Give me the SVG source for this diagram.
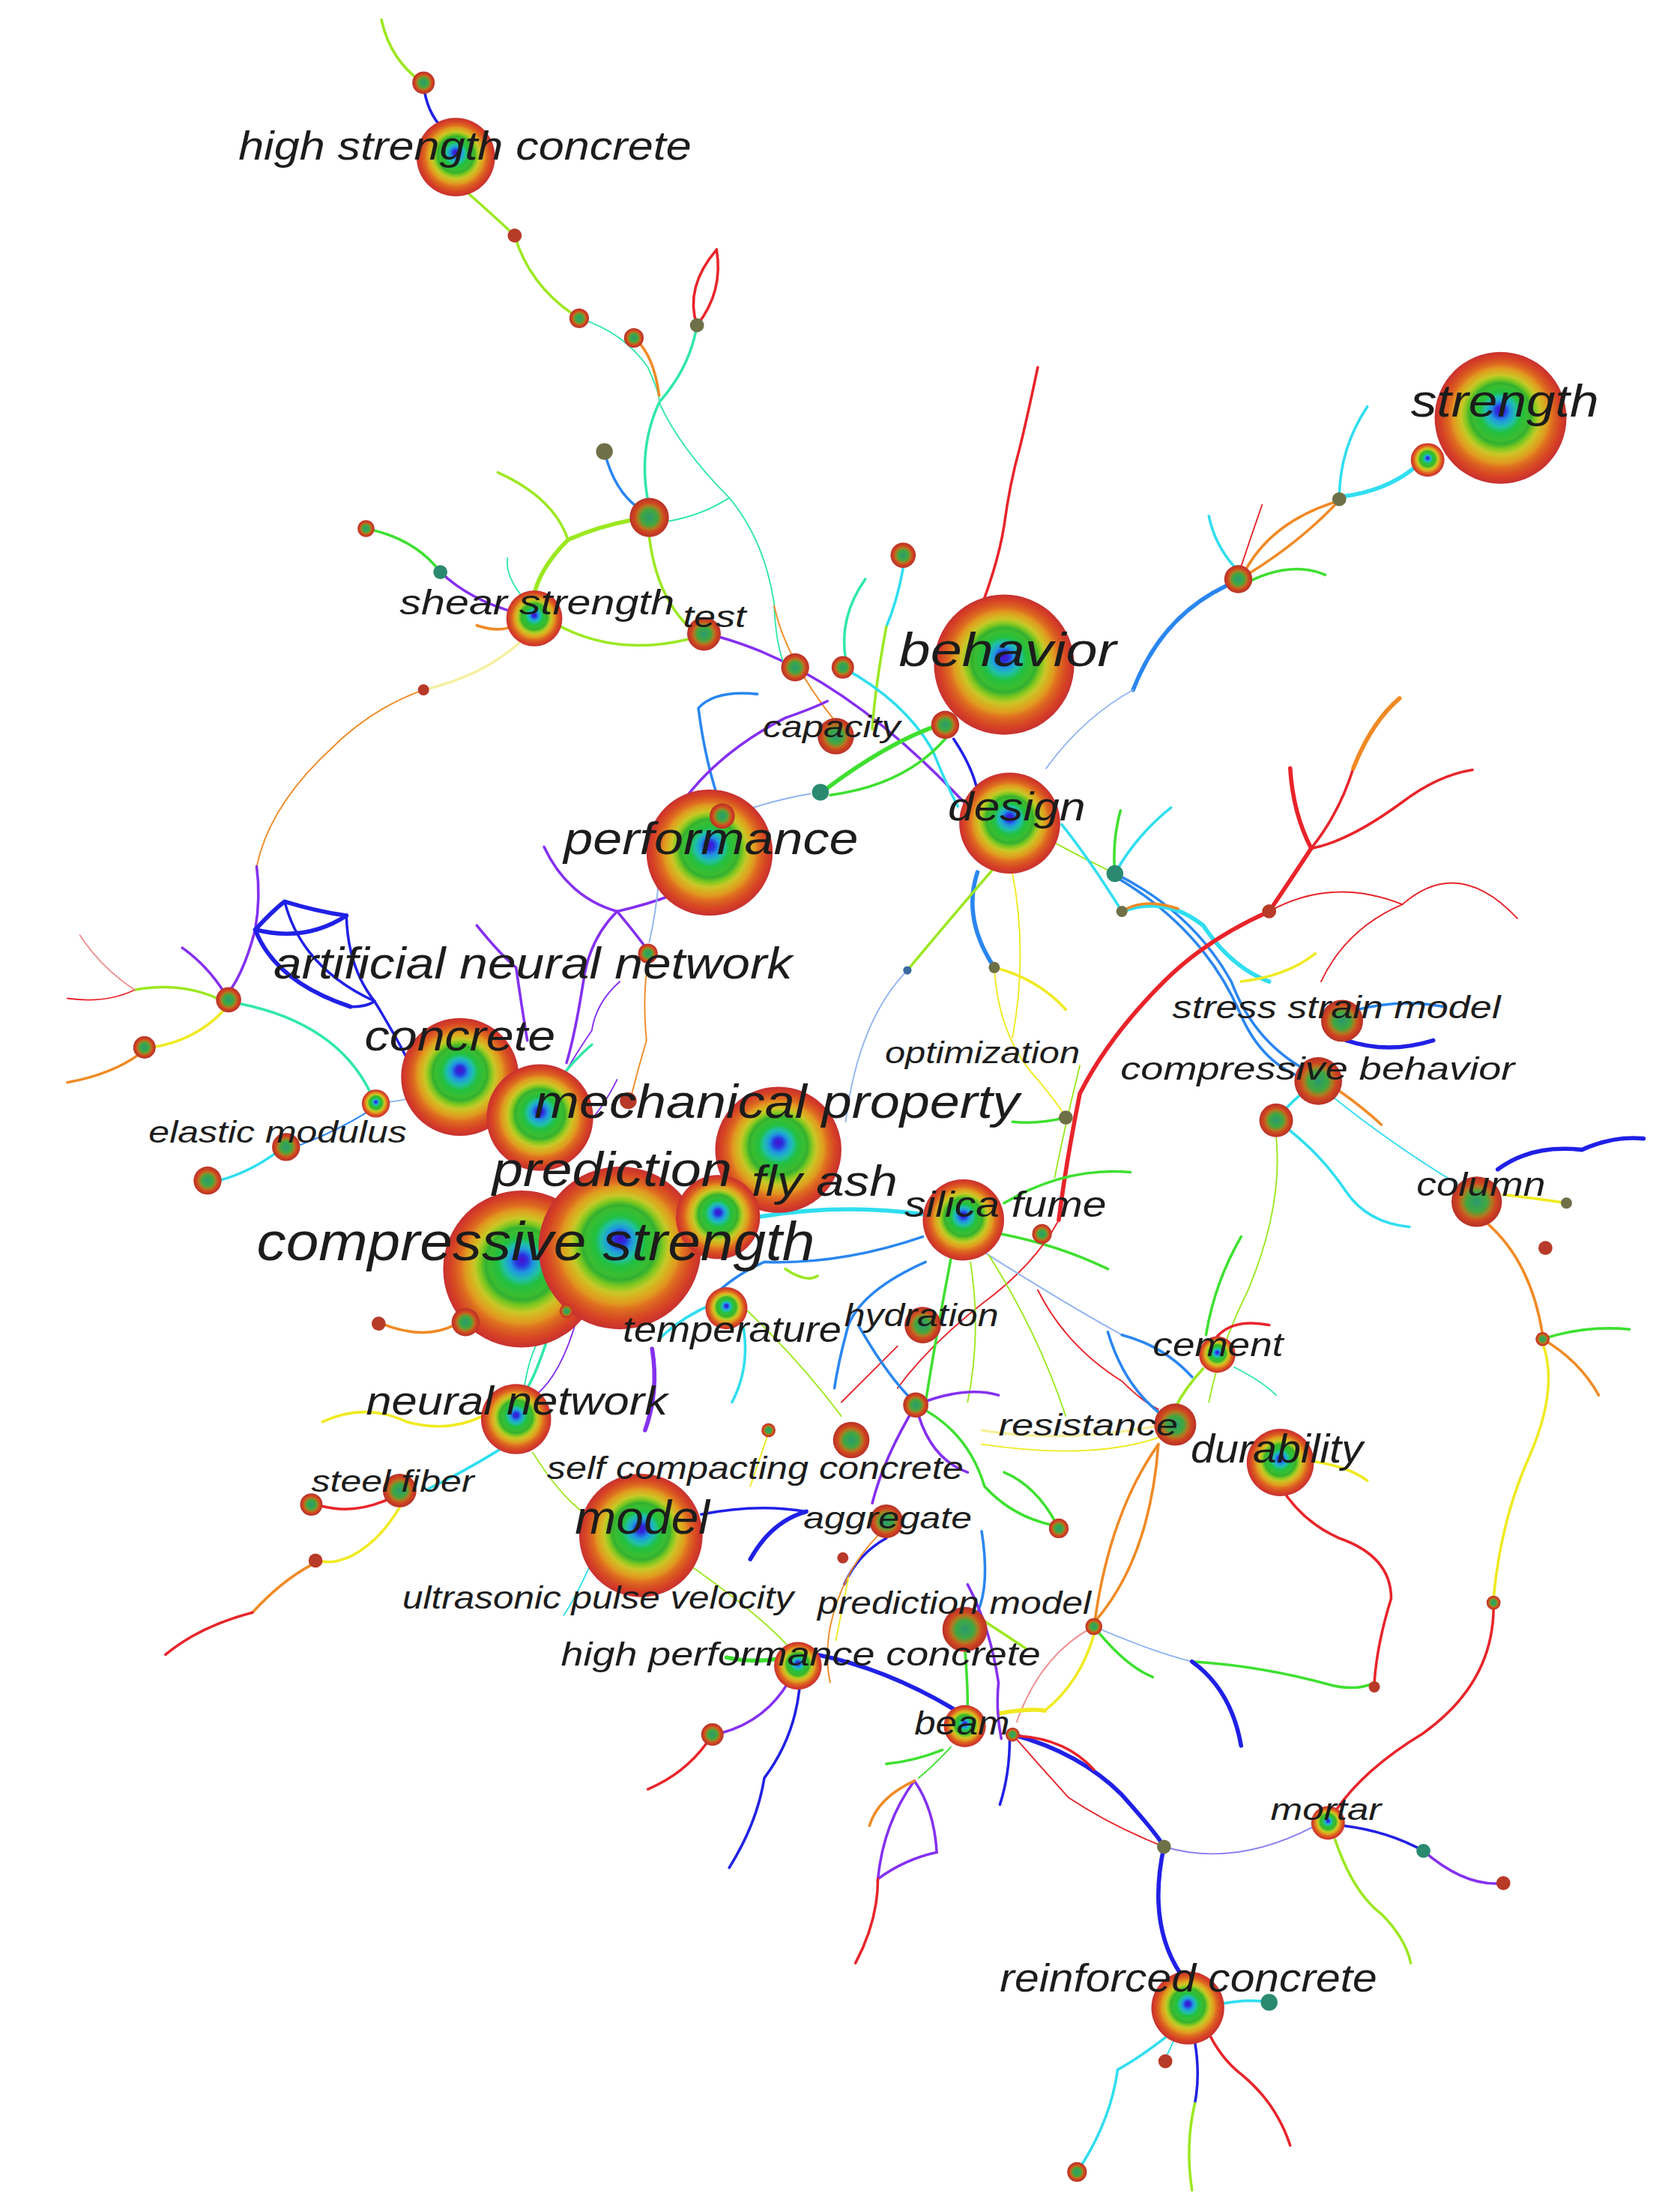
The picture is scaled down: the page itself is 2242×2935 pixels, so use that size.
<svg xmlns="http://www.w3.org/2000/svg" width="2242" height="2935" viewBox="0 0 2242 2935">
<defs>
<radialGradient id="rg" cx="0.5" cy="0.5" r="0.5" fx="0.5" fy="0.44">
<stop offset="0" stop-color="#4a10c8"/>
<stop offset="0.07" stop-color="#2a30e0"/>
<stop offset="0.15" stop-color="#2098e0"/>
<stop offset="0.23" stop-color="#20c0a8"/>
<stop offset="0.31" stop-color="#22c040"/>
<stop offset="0.42" stop-color="#3cbc30"/>
<stop offset="0.46" stop-color="#30b030"/>
<stop offset="0.53" stop-color="#80c820"/>
<stop offset="0.6" stop-color="#c8c828"/>
<stop offset="0.66" stop-color="#d8b020"/>
<stop offset="0.72" stop-color="#e09a20"/>
<stop offset="0.78" stop-color="#e07020"/>
<stop offset="0.84" stop-color="#d85a22"/>
<stop offset="0.9" stop-color="#d84424"/>
<stop offset="1" stop-color="#c83030"/>
</radialGradient>
<radialGradient id="rs" cx="0.5" cy="0.5" r="0.5">
<stop offset="0" stop-color="#2a9a70"/>
<stop offset="0.4" stop-color="#40a840"/>
<stop offset="0.6" stop-color="#b07a20"/>
<stop offset="0.75" stop-color="#d04820"/>
<stop offset="1" stop-color="#b83028"/>
</radialGradient>
<style>
.e path{fill:none;stroke-linecap:round}
.r{stroke:#e8242a}.o{stroke:#f08a24}.y{stroke:#f0ea20}.l{stroke:#9ce820}.g{stroke:#3ee030}
.t{stroke:#30e8a8}.c{stroke:#30def0}.lb{stroke:#2a86f0}.b{stroke:#2020e6}.p{stroke:#8430f0}
.pk{stroke:#f09090}.ly{stroke:#f6f0a0}.lt{stroke:#90b4f0}.lp{stroke:#8a80f0}
.w1{stroke-width:1}.w2{stroke-width:1.9}.w3{stroke-width:3}
.n{fill:url(#rg)}.m{fill:url(#rs)}.d{fill:#b83a28}.k{fill:#6e7048}.q{fill:#2a8a70}
text{font-family:"Liberation Sans",Arial,sans-serif;font-style:italic;fill:#1c1c1c}
</style>
</defs>
<rect width="2242" height="2935" fill="#ffffff"/>
<g transform="scale(1.8715)">
<g id="connectors" class="e">
<path class="l w2" d="M272,14 Q278,42 300,58"/>
<path class="b w2" d="M302,60 Q304,80 316,92"/>
<path class="p w2" d="M300,103 Q306,107 316,110"/>
<path class="l w2" d="M334,138 Q350,152 367,168"/>
<path class="l w2" d="M367,168 Q378,205 413,227"/>
<path class="t w1" d="M413,227 Q445,237 462,262 Q470,280 470,285"/>
<path class="o w2" d="M452,241 Q466,252 470,282"/>
<path class="r w2" d="M497,232 Q488,205 511,178"/>
<path class="r w2" d="M497,232 Q516,208 511,178"/>
<path class="t w2" d="M497,232 Q492,262 470,287 Q455,320 462,357"/>
<path class="t w1" d="M470,287 Q485,320 520,355 Q545,385 552,430"/>
<path class="lb w2" d="M431,322 Q438,350 455,362"/>
<path class="t w1" d="M475,372 Q500,368 520,355"/>
<path class="l w3" d="M450,371 Q425,376 405,385 Q385,405 381,424"/>
<path class="l w2" d="M405,385 Q395,355 355,337"/>
<path class="l w2" d="M463,383 Q468,425 492,448"/>
<path class="l w2" d="M398,446 Q440,468 490,456"/>
<path class="g w2" d="M261,377 Q296,384 314,408"/>
<path class="p w2" d="M314,408 Q335,428 368,437"/>
<path class="t w1" d="M372,425 Q360,410 362,398"/>
<path class="o w2" d="M340,446 Q355,451 364,447"/>
<path class="ly w2" d="M372,457 Q345,482 302,492"/>
<path class="o w1" d="M302,492 Q265,505 235,535 Q192,575 183,618"/>
<path class="p w2" d="M183,618 Q186,640 182,663"/>
<path class="p w2" d="M182,663 Q175,690 165,705"/>
<path class="p w2" d="M512,454 Q600,478 690,575"/>
<path class="c w2" d="M644,405 Q640,428 632,447"/>
<path class="l w2" d="M632,447 Q624,490 622,520"/>
<path class="t w2" d="M617,413 Q598,440 603,470"/>
<path class="t w1" d="M552,430 Q553,460 560,476"/>
<path class="o w1" d="M552,432 Q560,470 596,515"/>
<path class="c w2" d="M601,476 Q645,500 665,535 Q675,560 683,575"/>
<path class="lb w2" d="M540,495 Q510,492 498,505 Q503,545 515,578"/>
<path class="p w2" d="M478,585 Q505,540 560,512 Q580,505 590,500"/>
<path class="g w3" d="M664,519 Q630,532 590,562"/>
<path class="g w2" d="M674,527 Q645,560 592,567"/>
<path class="lt w1" d="M578,566 Q545,572 520,582"/>
<path class="b w2" d="M680,527 Q692,545 696,560"/>
<path class="r w2" d="M700,432 Q712,400 716,375 Q720,345 727,320 Q732,300 740,262"/>
<path class="lb w3" d="M808,492 Q828,440 874,418"/>
<path class="lt w1" d="M808,492 Q772,512 746,548"/>
<path class="o w2" d="M889,405 Q908,372 952,358"/>
<path class="o w2" d="M889,410 Q925,388 952,360"/>
<path class="r w1" d="M885,404 Q893,380 900,360"/>
<path class="c w2" d="M880,404 Q866,388 862,368"/>
<path class="g w2" d="M892,414 Q922,400 945,410"/>
<path class="c w2" d="M955,356 Q955,320 975,290"/>
<path class="c w3" d="M958,354 Q988,350 1008,334"/>
<path class="lb w3" d="M697,622 Q686,655 709,690"/>
<path class="l w2" d="M708,620 Q682,650 647,692"/>
<path class="lt w1" d="M647,692 Q612,728 603,800"/>
<path class="y w1" d="M722,623 Q733,680 722,740"/>
<path class="y w2" d="M709,690 Q740,698 760,720"/>
<path class="y w1" d="M709,690 Q712,740 740,770 Q755,788 760,797"/>
<path class="l w1" d="M750,600 Q772,612 795,623"/>
<path class="c w2" d="M757,588 Q775,610 800,650"/>
<path class="g w2" d="M795,623 Q793,600 799,578"/>
<path class="c w2" d="M795,623 Q810,596 835,576"/>
<path class="lb w2" d="M795,623 Q850,650 878,700 Q895,745 935,765"/>
<path class="lb w2" d="M795,625 Q858,662 884,722 Q900,760 933,770"/>
<path class="c w3" d="M800,650 Q830,638 858,660 Q878,690 905,700"/>
<path class="o w2" d="M800,650 Q815,640 840,648"/>
<path class="r w3" d="M905,650 Q922,625 935,605"/>
<path class="r w3" d="M935,605 Q922,580 920,548"/>
<path class="r w2" d="M935,605 Q962,600 1000,572 Q1025,553 1050,549"/>
<path class="r w2" d="M935,605 Q955,580 965,548"/>
<path class="o w3" d="M965,548 Q978,515 998,498"/>
<path class="r w3" d="M905,650 Q860,670 830,700 Q790,740 770,780 Q760,830 755,870"/>
<path class="r w1" d="M905,650 Q950,625 1000,645"/>
<path class="r w1" d="M1000,645 Q1040,610 1082,655"/>
<path class="r w1" d="M1000,645 Q960,662 942,700"/>
<path class="y w2" d="M885,700 Q918,696 938,680"/>
<path class="b w3" d="M960,742 Q990,752 1022,742"/>
<path class="lb w2" d="M968,720 Q1000,712 1030,718"/>
<path class="c w2" d="M940,771 Q920,785 910,799"/>
<path class="o w2" d="M955,778 Q972,790 985,802"/>
<path class="c w1" d="M950,782 Q995,818 1042,846"/>
<path class="c w2" d="M910,799 Q940,820 960,850 Q975,872 1005,875"/>
<path class="l w1" d="M910,811 Q915,860 890,920 Q870,960 862,1000"/>
<path class="g w2" d="M885,882 Q866,915 860,952"/>
<path class="b w3" d="M1068,834 Q1092,816 1128,820 Q1150,810 1172,812"/>
<path class="y w2" d="M1072,852 Q1098,855 1117,858"/>
<path class="o w2" d="M1060,872 Q1092,900 1100,952"/>
<path class="g w2" d="M1100,955 Q1130,945 1162,948"/>
<path class="o w2" d="M1100,955 Q1126,970 1140,995"/>
<path class="y w2" d="M1100,958 Q1112,990 1090,1040 Q1070,1085 1065,1140"/>
<path class="r w2" d="M1065,1146 Q1065,1200 1015,1236 Q972,1262 952,1292"/>
<path class="r w2" d="M913,1060 Q928,1085 955,1097 Q992,1110 992,1140 Q982,1172 980,1200"/>
<path class="y w2" d="M935,1042 Q962,1046 975,1056"/>
<path class="c w3" d="M658,866 Q600,858 540,868"/>
<path class="g w2" d="M716,858 Q760,832 806,836"/>
<path class="g w2" d="M714,880 Q755,888 790,905"/>
<path class="r w1" d="M755,870 Q738,902 700,930 Q662,960 640,990"/>
<path class="lb w2" d="M658,882 Q600,902 545,900"/>
<path class="lb w2" d="M545,900 Q522,910 505,928"/>
<path class="g w2" d="M760,797 Q740,802 722,800"/>
<path class="l w1" d="M770,760 Q760,800 752,840"/>
<path class="lt w1" d="M700,892 Q760,930 800,952"/>
<path class="lb w2" d="M800,952 Q830,960 850,982"/>
<path class="g w2" d="M678,898 Q668,950 660,1000"/>
<path class="l w1" d="M692,900 Q700,950 690,1000"/>
<path class="l w1" d="M705,895 Q740,950 760,1010"/>
<path class="lb w2" d="M660,900 Q615,920 605,945 Q598,970 595,990"/>
<path class="r w1" d="M640,960 Q615,985 600,1000"/>
<path class="r w1" d="M740,920 Q760,960 800,985 Q815,1000 826,1005"/>
<path class="p w2" d="M653,1002 Q688,988 712,995"/>
<path class="p w2" d="M653,1002 Q662,1040 690,1050"/>
<path class="p w2" d="M653,1002 Q630,1040 622,1072"/>
<path class="g w2" d="M653,1002 Q690,1020 702,1060 Q722,1082 752,1088"/>
<path class="lb w2" d="M612,945 Q632,980 650,998"/>
<path class="ly w2" d="M700,1020 Q760,1030 830,1016"/>
<path class="y w1" d="M700,1030 Q780,1042 830,1024"/>
<path class="lb w2" d="M790,950 Q802,990 830,1010"/>
<path class="r w2" d="M868,953 Q880,940 905,945"/>
<path class="t w1" d="M880,975 Q900,985 910,995"/>
<path class="l w2" d="M838,1004 Q845,990 858,976"/>
<path class="o w2" d="M826,1030 Q792,1078 781,1154"/>
<path class="o w2" d="M826,1030 Q820,1110 782,1155"/>
<path class="y w2" d="M780,1166 Q770,1200 745,1220"/>
<path class="pk w1" d="M780,1160 Q742,1180 725,1228"/>
<path class="g w2" d="M780,1160 Q802,1188 822,1196"/>
<path class="lt w1" d="M780,1160 Q822,1178 850,1185"/>
<path class="g w2" d="M850,1185 Q900,1188 950,1202 Q968,1206 980,1200"/>
<path class="b w3" d="M850,1185 Q878,1205 885,1245"/>
<path class="b w3" d="M722,1237 Q770,1250 800,1280 Q825,1308 830,1317"/>
<path class="r w1" d="M722,1237 Q742,1260 762,1282 Q792,1302 830,1317"/>
<path class="r w2" d="M726,1238 Q760,1240 780,1262"/>
<path class="b w3" d="M830,1317 Q818,1372 842,1408"/>
<path class="lp w1" d="M830,1317 Q880,1332 936,1303"/>
<path class="b w2" d="M958,1302 Q990,1306 1015,1320"/>
<path class="p w2" d="M1015,1320 Q1045,1346 1072,1343"/>
<path class="l w2" d="M952,1312 Q965,1350 985,1365 Q1002,1382 1006,1400"/>
<path class="c w2" d="M835,1450 Q812,1468 797,1476 Q792,1512 770,1546"/>
<path class="r w2" d="M860,1446 Q870,1468 886,1480 Q910,1500 920,1530"/>
<path class="b w2" d="M852,1456 Q856,1480 852,1500"/>
<path class="l w2" d="M852,1500 Q845,1530 850,1562"/>
<path class="c w1" d="M838,1453 Q834,1462 831,1468"/>
<path class="c w2" d="M866,1430 Q890,1425 905,1428"/>
<path class="p w2" d="M562,1200 Q545,1228 514,1236"/>
<path class="r w2" d="M504,1243 Q488,1265 462,1276"/>
<path class="b w2" d="M570,1205 Q566,1240 545,1268 Q540,1300 520,1332"/>
<path class="g w3" d="M555,1183 Q535,1186 518,1182"/>
<path class="b w3" d="M582,1180 Q632,1190 682,1220"/>
<path class="p w2" d="M652,1270 Q630,1300 626,1340 Q645,1326 668,1321 Q666,1290 652,1270"/>
<path class="o w2" d="M652,1270 Q626,1282 620,1302"/>
<path class="r w2" d="M626,1340 Q626,1370 610,1400"/>
<path class="g w2" d="M672,1248 Q652,1256 632,1258"/>
<path class="g w1" d="M678,1246 Q665,1260 655,1268"/>
<path class="b w2" d="M720,1240 Q720,1265 713,1287"/>
<path class="y w3" d="M712,1222 Q735,1218 745,1220"/>
<path class="b w3" d="M575,1078 Q550,1085 535,1112"/>
<path class="b w2" d="M500,1080 Q540,1072 575,1078"/>
<path class="b w2" d="M632,1097 Q612,1108 602,1130"/>
<path class="o w1" d="M626,1095 Q600,1122 592,1160 Q588,1182 592,1200"/>
<path class="g w2" d="M688,1175 Q690,1200 690,1216"/>
<path class="l w2" d="M700,1155 Q720,1168 732,1176"/>
<path class="lb w2" d="M700,1092 Q706,1130 697,1150"/>
<path class="p w2" d="M690,1130 Q706,1160 712,1200 Q710,1220 714,1240"/>
<path class="g w2" d="M755,1090 Q740,1060 716,1050"/>
<path class="l w1" d="M490,1115 Q540,1150 563,1175"/>
<path class="y w1" d="M605,1125 Q600,1150 596,1170"/>
<path class="p w2" d="M163,713 Q150,690 130,676"/>
<path class="l w2" d="M155,712 Q128,700 96,706"/>
<path class="r w1" d="M96,706 Q75,716 48,712"/>
<path class="pk w1" d="M96,706 Q72,690 57,667"/>
<path class="y w2" d="M160,720 Q140,742 108,747"/>
<path class="o w2" d="M99,752 Q80,766 48,772"/>
<path class="t w2" d="M172,716 Q240,730 264,779"/>
<path class="lt w1" d="M277,786 Q292,784 305,780"/>
<path class="lb w1" d="M262,793 Q238,808 210,818"/>
<path class="c w2" d="M197,822 Q178,836 156,842"/>
<path class="b w3" d="M182,663 Q196,700 250,718"/>
<path class="b w3" d="M182,663 Q218,672 247,653"/>
<path class="b w3" d="M182,663 Q196,648 203,643 Q226,650 247,653"/>
<path class="b w2" d="M203,643 Q215,690 267,714"/>
<path class="b w2" d="M247,653 Q248,690 267,714"/>
<path class="b w2" d="M250,718 Q262,718 267,714"/>
<path class="b w2" d="M267,714 Q280,735 292,758"/>
<path class="p w2" d="M388,604 Q405,640 440,650 Q462,645 480,638"/>
<path class="p w2" d="M440,650 Q420,670 416,700 Q410,738 404,758"/>
<path class="p w2" d="M440,650 Q455,668 462,678"/>
<path class="p w2" d="M340,660 Q356,680 368,690 Q372,718 376,742"/>
<path class="p w1" d="M442,700 Q425,715 422,735 Q405,760 396,778"/>
<path class="o w1" d="M462,688 Q458,710 461,742 Q455,762 450,782"/>
<path class="t w2" d="M422,745 Q405,760 398,772"/>
<path class="o w1" d="M300,745 Q310,760 322,770"/>
<path class="lt w1" d="M470,625 Q468,650 463,672"/>
<path class="p w1" d="M440,770 Q430,790 420,800"/>
<path class="o w2" d="M272,944 Q302,956 324,945"/>
<path class="t w2" d="M390,956 Q382,980 376,990"/>
<path class="p w1" d="M410,945 Q398,985 378,998"/>
<path class="p w3" d="M465,962 Q470,992 460,1020"/>
<path class="c w2" d="M470,955 Q485,940 508,930"/>
<path class="c w2" d="M530,946 Q535,975 522,1000"/>
<path class="l w1" d="M530,932 Q570,970 600,1010"/>
<path class="l w2" d="M560,905 Q575,915 583,910"/>
<path class="y w2" d="M230,1014 Q260,1000 290,1014 Q320,1022 344,1010"/>
<path class="c w2" d="M356,1034 Q330,1050 305,1062"/>
<path class="l w1" d="M380,1036 Q400,1068 418,1080"/>
<path class="t w1" d="M374,988 Q378,965 385,955"/>
<path class="y w1" d="M548,1022 Q540,1045 535,1060"/>
<path class="r w2" d="M229,1074 Q252,1080 275,1070"/>
<path class="y w2" d="M285,1075 Q270,1100 250,1110 Q236,1116 228,1113"/>
<path class="o w2" d="M222,1116 Q200,1128 180,1150"/>
<path class="r w2" d="M180,1150 Q142,1160 118,1180"/>
<path class="c w1" d="M420,1118 Q410,1140 402,1152"/>
</g>
<g id="node-strength"><circle class="n" cx="1070" cy="298" r="47"/></g>
<g id="node-n2"><circle class="n" cx="1018" cy="328" r="12"/></g>
<g id="node-behavior"><circle class="n" cx="716" cy="474" r="50"/></g>
<g id="node-design"><circle class="n" cx="720" cy="587" r="36"/></g>
<g id="node-performance"><circle class="n" cx="506" cy="608" r="45"/></g>
<g id="node-high-strength-concrete"><circle class="n" cx="325" cy="112" r="28"/></g>
<g id="node-shear-strength"><circle class="n" cx="381" cy="441" r="20"/></g>
<g id="node-test"><circle class="m" cx="502" cy="452" r="12"/></g>
<g id="node-capacity"><circle class="m" cx="596" cy="525" r="13"/></g>
<g id="node-n10"><circle class="m" cx="674" cy="517" r="10"/></g>
<g id="node-concrete"><circle class="n" cx="328" cy="768" r="42"/></g>
<g id="node-mechanical-property"><circle class="n" cx="385" cy="797" r="38"/></g>
<g id="node-fly-ash"><circle class="n" cx="555" cy="820" r="45"/></g>
<g id="node-compressive-strength"><circle class="n" cx="372" cy="905" r="56"/></g>
<g id="node-prediction"><circle class="n" cx="442" cy="890" r="58"/></g>
<g id="node-n16"><circle class="n" cx="512" cy="868" r="30"/></g>
<g id="node-silica-fume"><circle class="n" cx="687" cy="870" r="29"/></g>
<g id="node-temperature"><circle class="n" cx="518" cy="933" r="15"/></g>
<g id="node-hydration"><circle class="m" cx="658" cy="945" r="13"/></g>
<g id="node-neural-network"><circle class="n" cx="368" cy="1012" r="25"/></g>
<g id="node-steel-fiber"><circle class="m" cx="285" cy="1063" r="12"/></g>
<g id="node-model"><circle class="n" cx="457" cy="1095" r="44"/></g>
<g id="node-self-compacting-concrete"><circle class="m" cx="607" cy="1027" r="13"/></g>
<g id="node-n24"><circle class="m" cx="653" cy="1002" r="9"/></g>
<g id="node-aggregate"><circle class="m" cx="632" cy="1085" r="12"/></g>
<g id="node-prediction-model"><circle class="m" cx="688" cy="1162" r="16"/></g>
<g id="node-high-performance-concrete"><circle class="n" cx="569" cy="1188" r="17"/></g>
<g id="node-beam"><circle class="n" cx="688" cy="1231" r="15"/></g>
<g id="node-cement"><circle class="n" cx="868" cy="966" r="13"/></g>
<g id="node-resistance"><circle class="m" cx="838" cy="1016" r="15"/></g>
<g id="node-durability"><circle class="n" cx="913" cy="1043" r="24"/></g>
<g id="node-stress-strain-model"><circle class="m" cx="957" cy="728" r="15"/></g>
<g id="node-compressive-behavior"><circle class="m" cx="940" cy="771" r="17"/></g>
<g id="node-n34"><circle class="m" cx="910" cy="799" r="12"/></g>
<g id="node-column"><circle class="m" cx="1053" cy="857" r="18"/></g>
<g id="node-mortar"><circle class="n" cx="947" cy="1300" r="12"/></g>
<g id="node-reinforced-concrete"><circle class="n" cx="847" cy="1432" r="26"/></g>
<g id="node-n38"><circle class="m" cx="463" cy="369" r="14"/></g>
<g id="node-n39"><circle class="m" cx="644" cy="396" r="9"/></g>
<g id="node-n40"><circle class="m" cx="883" cy="413" r="10"/></g>
<g id="node-n41"><circle class="m" cx="567" cy="476" r="10"/></g>
<g id="node-n42"><circle class="m" cx="601" cy="476" r="8"/></g>
<g id="node-n43"><circle class="m" cx="515" cy="582" r="9"/></g>
<g id="node-n44"><circle class="m" cx="302" cy="59" r="8"/></g>
<g id="node-n45"><circle class="d" cx="367" cy="168" r="5"/></g>
<g id="node-n46"><circle class="m" cx="413" cy="227" r="7"/></g>
<g id="node-n47"><circle class="m" cx="452" cy="241" r="7"/></g>
<g id="node-n48"><circle class="k" cx="497" cy="232" r="5"/></g>
<g id="node-n49"><circle class="m" cx="261" cy="377" r="6"/></g>
<g id="node-n50"><circle class="m" cx="163" cy="713" r="9"/></g>
<g id="node-n51"><circle class="m" cx="103" cy="747" r="8"/></g>
<g id="node-n52"><circle class="n" cx="268" cy="787" r="10"/></g>
<g id="node-elastic-modulus"><circle class="m" cx="204" cy="818" r="10"/></g>
<g id="node-n54"><circle class="m" cx="148" cy="842" r="10"/></g>
<g id="node-n55"><circle class="m" cx="332" cy="943" r="10"/></g>
<g id="node-n56"><circle class="m" cx="404" cy="935" r="5"/></g>
<g id="node-n57"><circle class="d" cx="270" cy="944" r="5"/></g>
<g id="node-n58"><circle class="m" cx="222" cy="1073" r="8"/></g>
<g id="node-n59"><circle class="d" cx="225" cy="1113" r="5"/></g>
<g id="node-n60"><circle class="m" cx="755" cy="1090" r="7"/></g>
<g id="node-n61"><circle class="m" cx="743" cy="880" r="7"/></g>
<g id="node-n62"><circle class="m" cx="508" cy="1237" r="8"/></g>
<g id="node-n63"><circle class="m" cx="1100" cy="955" r="5"/></g>
<g id="node-n64"><circle class="m" cx="1065" cy="1143" r="5"/></g>
<g id="node-n65"><circle class="q" cx="1015" cy="1320" r="5"/></g>
<g id="node-n66"><circle class="d" cx="1072" cy="1343" r="5"/></g>
<g id="node-n67"><circle class="q" cx="905" cy="1428" r="6"/></g>
<g id="node-n68"><circle class="d" cx="831" cy="1470" r="5"/></g>
<g id="node-n69"><circle class="m" cx="768" cy="1549" r="7"/></g>
<g id="node-n70"><circle class="k" cx="830" cy="1317" r="5"/></g>
<g id="node-n71"><circle class="m" cx="780" cy="1160" r="6"/></g>
<g id="node-n72"><circle class="q" cx="795" cy="623" r="6"/></g>
<g id="node-n73"><circle class="k" cx="800" cy="650" r="4"/></g>
<g id="node-n74"><circle class="d" cx="905" cy="650" r="5"/></g>
<g id="node-n75"><circle class="d" cx="1102" cy="890" r="5"/></g>
<g id="node-n76"><circle class="k" cx="1117" cy="858" r="4"/></g>
<g id="node-n77"><circle class="d" cx="980" cy="1203" r="4"/></g>
<g id="node-n79"><circle class="d" cx="601" cy="1111" r="4"/></g>
<g id="node-n80"><circle class="m" cx="462" cy="680" r="7"/></g>
<g id="node-n81"><circle class="d" cx="448" cy="785" r="6"/></g>
<g id="node-n84"><circle class="m" cx="722" cy="1237" r="5"/></g>
<g id="node-n85"><circle class="k" cx="709" cy="690" r="4"/></g>
<g id="node-n86"><circle cx="647" cy="692" r="3" fill="#3a6aa0"/></g>
<g id="node-n87"><circle class="k" cx="760" cy="797" r="5"/></g>
<g id="node-n88"><circle class="q" cx="585" cy="565" r="6"/></g>
<g id="node-n89"><circle class="k" cx="955" cy="356" r="5"/></g>
<g id="node-n90"><circle class="q" cx="314" cy="408" r="5"/></g>
<g id="node-n91"><circle class="d" cx="302" cy="492" r="4"/></g>
<g id="node-n93"><circle class="k" cx="431" cy="322" r="6"/></g>
<g id="node-n94"><circle class="m" cx="548" cy="1020" r="5"/></g>
<g id="labels">
<text x="170" y="114" font-size="29" textLength="323" lengthAdjust="spacingAndGlyphs">high strength concrete</text>
<text x="1006" y="297" font-size="33" textLength="134" lengthAdjust="spacingAndGlyphs">strength</text>
<text x="641" y="475" font-size="34" textLength="155" lengthAdjust="spacingAndGlyphs">behavior</text>
<text x="285" y="438" font-size="25" textLength="196" lengthAdjust="spacingAndGlyphs">shear strength</text>
<text x="487" y="447" font-size="22" textLength="45" lengthAdjust="spacingAndGlyphs">test</text>
<text x="544" y="526" font-size="22" textLength="98" lengthAdjust="spacingAndGlyphs">capacity</text>
<text x="676" y="585" font-size="29" textLength="98" lengthAdjust="spacingAndGlyphs">design</text>
<text x="402" y="609" font-size="33" textLength="210" lengthAdjust="spacingAndGlyphs">performance</text>
<text x="195" y="698" font-size="32" textLength="370" lengthAdjust="spacingAndGlyphs">artificial neural network</text>
<text x="836" y="726" font-size="23" textLength="234" lengthAdjust="spacingAndGlyphs">stress strain model</text>
<text x="260" y="749" font-size="31" textLength="136" lengthAdjust="spacingAndGlyphs">concrete</text>
<text x="631" y="758" font-size="22" textLength="139" lengthAdjust="spacingAndGlyphs">optimization</text>
<text x="799" y="770" font-size="23" textLength="281" lengthAdjust="spacingAndGlyphs">compressive behavior</text>
<text x="381" y="797" font-size="34" textLength="346" lengthAdjust="spacingAndGlyphs">mechanical property</text>
<text x="106" y="815" font-size="22" textLength="184" lengthAdjust="spacingAndGlyphs">elastic modulus</text>
<text x="351" y="846" font-size="35" textLength="171" lengthAdjust="spacingAndGlyphs">prediction</text>
<text x="536" y="853" font-size="31" textLength="104" lengthAdjust="spacingAndGlyphs">fly ash</text>
<text x="645" y="868" font-size="26" textLength="144" lengthAdjust="spacingAndGlyphs">silica fume</text>
<text x="1010" y="853" font-size="24" textLength="92" lengthAdjust="spacingAndGlyphs">column</text>
<text x="183" y="899" font-size="39" textLength="398" lengthAdjust="spacingAndGlyphs">compressive strength</text>
<text x="444" y="957" font-size="26" textLength="156" lengthAdjust="spacingAndGlyphs">temperature</text>
<text x="602" y="946" font-size="23" textLength="110" lengthAdjust="spacingAndGlyphs">hydration</text>
<text x="822" y="967" font-size="24" textLength="93" lengthAdjust="spacingAndGlyphs">cement</text>
<text x="261" y="1009" font-size="29" textLength="215" lengthAdjust="spacingAndGlyphs">neural network</text>
<text x="712" y="1024" font-size="22" textLength="128" lengthAdjust="spacingAndGlyphs">resistance</text>
<text x="849" y="1043" font-size="29" textLength="123" lengthAdjust="spacingAndGlyphs">durability</text>
<text x="390" y="1055" font-size="23" textLength="297" lengthAdjust="spacingAndGlyphs">self compacting concrete</text>
<text x="222" y="1064" font-size="22" textLength="116" lengthAdjust="spacingAndGlyphs">steel fiber</text>
<text x="410" y="1094" font-size="34" textLength="96" lengthAdjust="spacingAndGlyphs">model</text>
<text x="573" y="1090" font-size="22" textLength="120" lengthAdjust="spacingAndGlyphs">aggregate</text>
<text x="287" y="1147" font-size="23" textLength="279" lengthAdjust="spacingAndGlyphs">ultrasonic pulse velocity</text>
<text x="583" y="1151" font-size="23" textLength="195" lengthAdjust="spacingAndGlyphs">prediction model</text>
<text x="400" y="1188" font-size="24" textLength="342" lengthAdjust="spacingAndGlyphs">high performance concrete</text>
<text x="652" y="1237" font-size="24" textLength="68" lengthAdjust="spacingAndGlyphs">beam</text>
<text x="906" y="1298" font-size="22" textLength="79" lengthAdjust="spacingAndGlyphs">mortar</text>
<text x="713" y="1420" font-size="28" textLength="269" lengthAdjust="spacingAndGlyphs">reinforced concrete</text>
</g>
</g>
</svg>
